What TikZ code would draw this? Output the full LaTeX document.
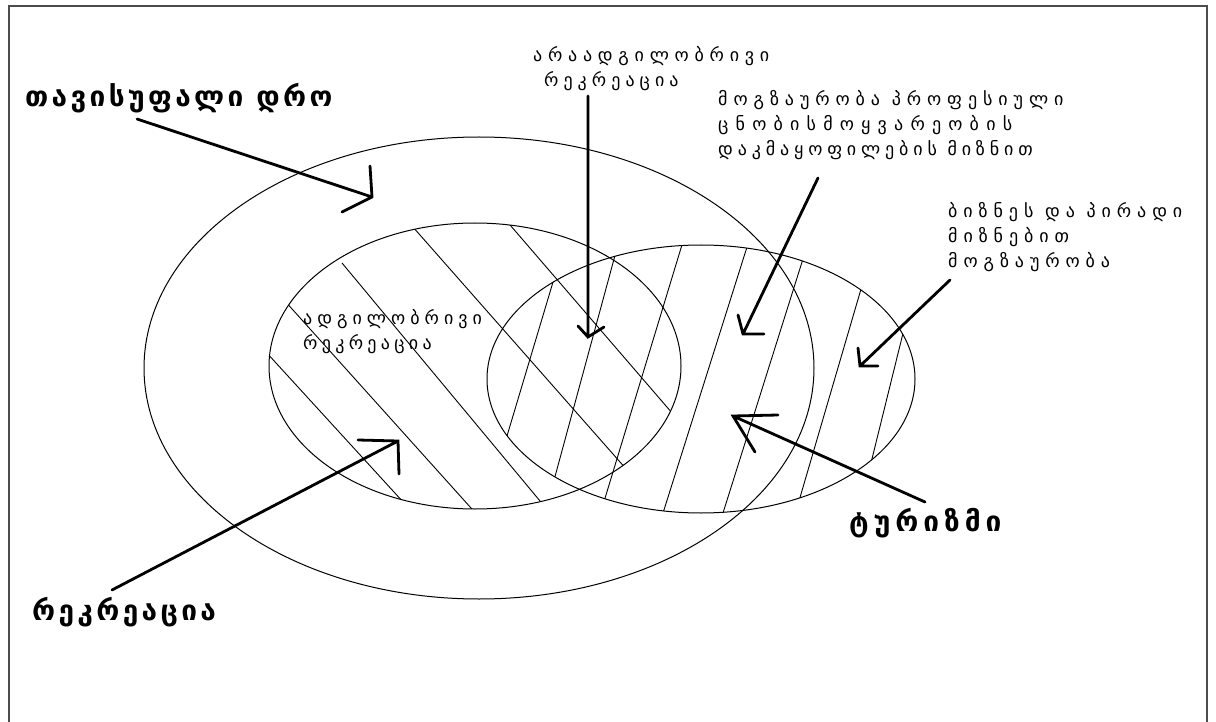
\documentclass[tikz,border=0pt]{standalone}
\usepackage{fontspec}
\newfontfamily\geo{DejaVu Sans}
\usetikzlibrary{shapes.geometric}
\newcommand{\spaced}[2]{{\addfontfeatures{LetterSpace=#1}#2}}
\tikzset{
  frameline/.style={draw=black!70, line width=1.8pt},
  setline/.style={draw=black, line width=1pt, ellipse, inner sep=0pt},
  hatch/.style={draw=black, line width=0.9pt},
  pointer/.style={draw=black, line width=2.8pt, line cap=round, line join=miter},
  headtxt/.style={font={\geo\bfseries\fontsize{28}{32}\selectfont\addfontfeatures{LetterSpace=#1}}, inner sep=0pt, anchor=west},
  labeltxt/.style={font={\geo\fontsize{18}{25}\selectfont}, inner sep=0pt, anchor=north west, align=left},
}
\begin{document}
\begin{tikzpicture}[x=1pt,y=-1pt]
\useasboundingbox (0,0) rectangle (1216,722);
\fill[white] (0,0) rectangle (1216,722);

% outer frame (open at the bottom)
\draw[frameline] (9,722) -- (9,6) -- (1207,6) -- (1207,722);

% the three sets
\node[setline, minimum width=670pt, minimum height=462pt] (leisure) at (479,368) {};
\node[setline, minimum width=412pt, minimum height=286pt] (recreation) at (475,366) {};
\node[setline, minimum width=428pt, minimum height=268pt] (tourism) at (701,379) {};

% hatching of the recreation set
\begin{scope}
  \clip (475,366) ellipse [x radius=206pt, y radius=143pt];
  \draw[hatch] (255,340) -- (415,515);
  \draw[hatch] (275,290) -- (480,518);
  \draw[hatch] (342,263) -- (550,513);
  \draw[hatch] (405,218) -- (635,479);
  \draw[hatch] (498,211) -- (685,428);
\end{scope}

% hatching of the tourism set
\begin{scope}
  \clip (701,379) ellipse [x radius=214pt, y radius=134pt];
  \draw[hatch] (559,262) -- (501,456);
  \draw[hatch] (620,237) -- (550,495);
  \draw[hatch] (688,225) -- (599,518);
  \draw[hatch] (753,228) -- (657,532);
  \draw[hatch] (808,243) -- (717,532);
  \draw[hatch] (866,272) -- (794,518);
  \draw[hatch] (908,313) -- (868,475);
\end{scope}

% labels
\node[headtxt=12] (free) at (25,98) {თავისუფალი დრო};
\node[headtxt=12] (rec) at (32,612) {რეკრეაცია};
\node[headtxt=18] (tour) at (849,523) {ტურიზმი};
\node[labeltxt] (nonlocal) at (533,46)
  {\spaced{32}{არაადგილობრივი}\\\hspace*{11pt}\spaced{28}{რეკრეაცია}};
\node[labeltxt] (local) at (303,309)
  {\spaced{28}{ადგილობრივი}\\\spaced{24}{რეკრეაცია}};
\node[labeltxt] (prof) at (718,90)
  {\spaced{33}{მოგზაურობა პროფესიული}\\\spaced{40}{ცნობისმოყვარეობის}\\\spaced{27}{დაკმაყოფილების მიზნით}};
\node[labeltxt] (biz) at (948,202)
  {\spaced{33}{ბიზნეს და პირადი}\\\spaced{33}{მიზნებით}\\\spaced{33}{მოგზაურობა}};

% pointer ends
\coordinate (freeT) at (137,119);  \coordinate (freeP) at (372,197);
\coordinate (freeA) at (370,166);  \coordinate (freeB) at (342,212);
\coordinate (nlT) at (588,96);     \coordinate (nlP) at (588,337);
\coordinate (nlA) at (578,326);    \coordinate (nlB) at (604,327);
\coordinate (profT) at (818,178);  \coordinate (profP) at (743,334);
\coordinate (profA) at (738,315);  \coordinate (profB) at (764,334);
\coordinate (bizT) at (950,280);   \coordinate (bizP) at (860,366);
\coordinate (bizA) at (858,348);   \coordinate (bizB) at (878,366);
\coordinate (tourT) at (925,502);  \coordinate (tourP) at (733,416);
\coordinate (tourA) at (778,415);  \coordinate (tourB) at (755,452);
\coordinate (recT) at (112,590);   \coordinate (recP) at (398,441);
\coordinate (recA) at (358,440);   \coordinate (recB) at (399,474);

% pointers
\draw[pointer] (freeT) -- (freeP) (freeA) -- (freeP) -- (freeB);
\draw[pointer] (nlT) -- (nlP) (nlA) -- (nlP) -- (nlB);
\draw[pointer] (profT) -- (profP) (profA) -- (profP) -- (profB);
\draw[pointer] (bizT) -- (bizP) (bizA) -- (bizP) -- (bizB);
\draw[pointer] (tourT) -- (tourP) (tourA) -- (tourP) -- (tourB);
\draw[pointer] (recT) -- (recP) (recA) -- (recP) -- (recB);
\end{tikzpicture}
\end{document}
